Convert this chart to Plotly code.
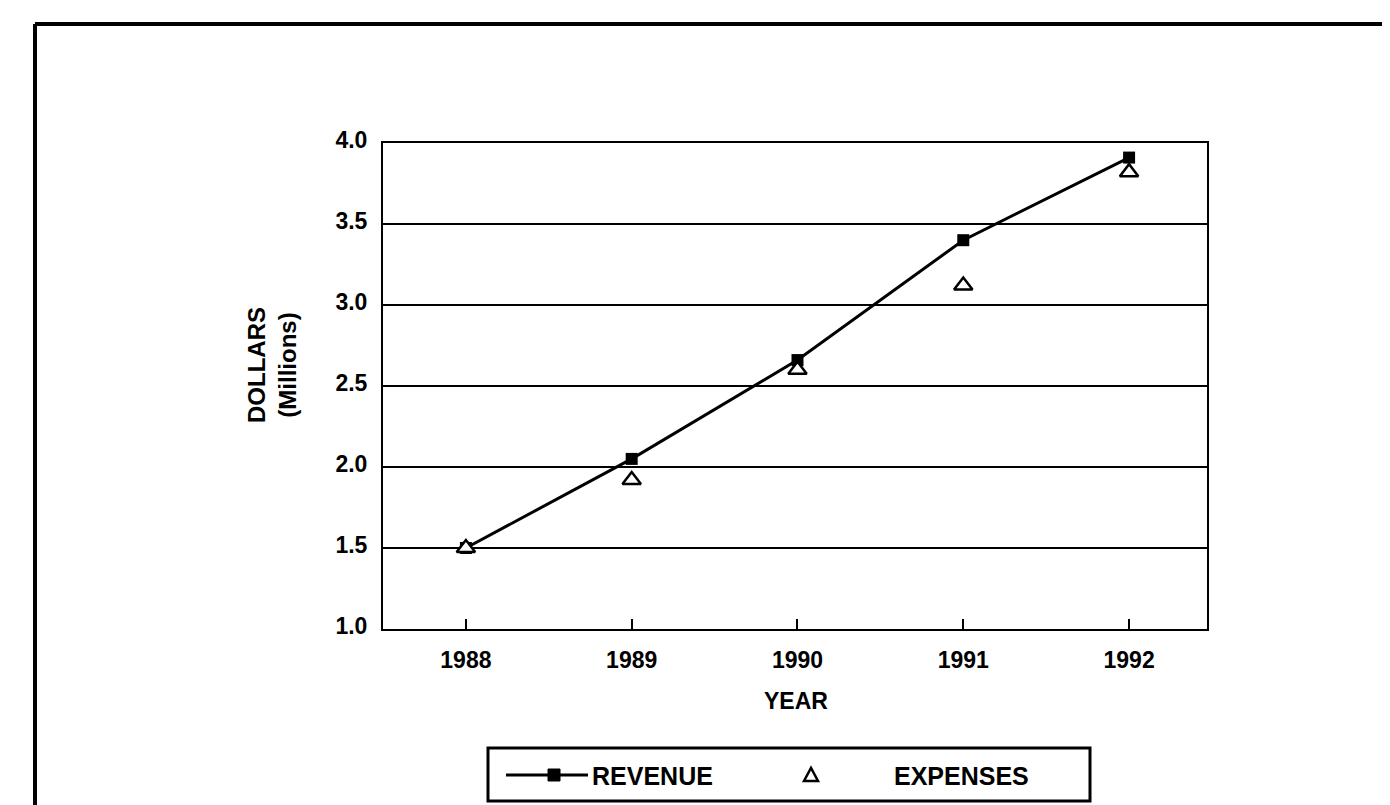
import plotly.graph_objects as go

years = [1988, 1989, 1990, 1991, 1992]
revenue = [1.50, 2.05, 2.66, 3.40, 3.91]
expenses = [1.50, 1.92, 2.60, 3.12, 3.82]
y_ticks = [1.0, 1.5, 2.0, 2.5, 3.0, 3.5, 4.0]
y_tick_labels = ["1.0", "1.5", "2.0", "2.5", "3.0", "3.5", "4.0"]
x_tick_labels = ["1988", "1989", "1990", "1991", "1992"]
series_names = ["REVENUE", "EXPENSES"]

FONT = "Liberation Sans, Arial, Helvetica, sans-serif"

# plot area in pixels (for converting layout positions to paper coords)
L, R, T, B = 375, 1199, 135, 621
def px(x):
    return (x - L) / (R - L)
def py(y):
    return (B - y) / (B - T)

fig = go.Figure()
fig.add_trace(go.Scatter(
    x=years, y=revenue, name=series_names[0], mode="lines+markers",
    line=dict(color="black", width=3),
    marker=dict(symbol="square", size=12, color="black"),
    showlegend=False,
))
fig.add_trace(go.Scatter(
    x=years, y=expenses, name=series_names[1], mode="markers",
    marker=dict(symbol="triangle-up", size=16, color="white",
                line=dict(color="black", width=2.5)),
    showlegend=False,
))

# legend key drawn as a boxed key below the chart
ly = 767
legend_shapes = [
    dict(type="rect", xref="paper", yref="paper",
         x0=px(480), x1=px(1082), y0=py(793), y1=py(740),
         line=dict(color="black", width=3), fillcolor="white"),
    dict(type="line", xref="paper", yref="paper",
         x0=px(498), x1=px(580), y0=py(ly), y1=py(ly),
         line=dict(color="black", width=3)),
    dict(type="rect", xref="paper", yref="paper",
         x0=px(540), x1=px(552), y0=py(ly + 6), y1=py(ly - 6),
         line=dict(color="black", width=1), fillcolor="black"),
    dict(type="path", xref="paper", yref="paper",
         path=f"M {px(796)},{py(ly + 6)} L {px(810)},{py(ly + 6)} L {px(803)},{py(ly - 7)} Z",
         line=dict(color="black", width=2.5)),
]

fig.update_layout(
    width=1390, height=805,
    margin=dict(l=L, r=1390 - R, t=T, b=805 - B),
    paper_bgcolor="white", plot_bgcolor="white",
    font=dict(family=FONT, color="black", size=23, weight="bold"),
    showlegend=False,
    xaxis=dict(
        range=[1987.5, 1992.47], tickvals=years, ticktext=x_tick_labels,
        ticks="inside", ticklen=10, tickwidth=2, tickcolor="black",
        showline=True, linecolor="black", linewidth=2, mirror=True,
        showgrid=False, zeroline=False, ticklabelstandoff=9,
        tickfont=dict(family=FONT, size=23, weight="bold"),
    ),
    yaxis=dict(
        range=[1.0, 4.0], tickvals=y_ticks, ticktext=y_tick_labels,
        ticks="", showline=True, linecolor="black", linewidth=2, mirror=True,
        showgrid=True, gridcolor="black", gridwidth=2, zeroline=False,
        ticklabelstandoff=9, ticklabelshift=-3,
        tickfont=dict(family=FONT, size=23, weight="bold"),
    ),
    annotations=[
        dict(text="DOLLARS<br>(Millions)", xref="paper", yref="paper",
             x=px(264), y=py(357), xanchor="center", yanchor="middle",
             textangle=-90, showarrow=False,
             font=dict(family=FONT, size=24, weight="bold")),
        dict(text="YEAR", xref="paper", yref="paper",
             x=px(788), y=py(693), xanchor="center", yanchor="middle",
             showarrow=False, font=dict(family=FONT, size=23, weight="bold")),
        dict(text=series_names[0], xref="paper", yref="paper",
             x=px(582), y=py(ly + 1), xanchor="left", yanchor="middle",
             showarrow=False, font=dict(family=FONT, size=25, weight="bold")),
        dict(text=series_names[1], xref="paper", yref="paper",
             x=px(884), y=py(ly + 1), xanchor="left", yanchor="middle",
             showarrow=False, font=dict(family=FONT, size=25, weight="bold")),
    ],
    shapes=[
        dict(type="line", xref="paper", yref="paper",
             x0=px(27), x1=px(27), y0=py(900), y1=py(16),
             line=dict(color="black", width=4)),
        dict(type="line", xref="paper", yref="paper",
             x0=px(27), x1=px(1500), y0=py(16), y1=py(16),
             line=dict(color="black", width=4)),
    ] + legend_shapes,
)

fig.write_html("out.html")
